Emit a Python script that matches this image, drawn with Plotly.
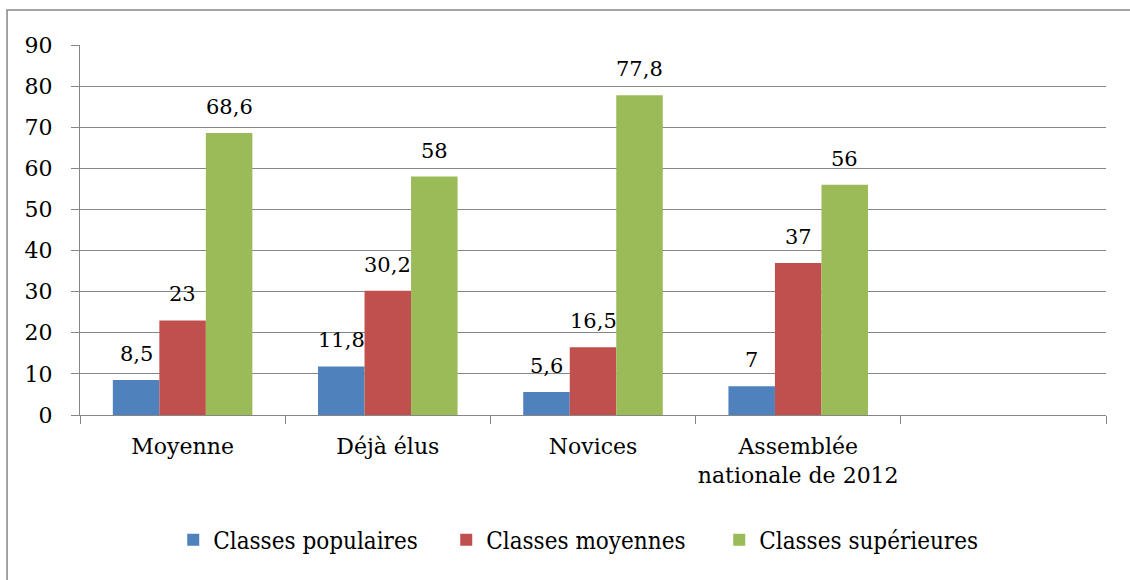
import plotly.graph_objects as go

categories = ["Moyenne", "Déjà élus", "Novices", "Assemblée<br>nationale de 2012"]
empty_slot = " "
series_names = ["Classes populaires", "Classes moyennes", "Classes supérieures"]
populaires = [8.5, 11.8, 5.6, 7]
moyennes = [23, 30.2, 16.5, 37]
superieures = [68.6, 58, 77.8, 56]
colors = ["#4F81BD", "#C0504D", "#9BBB59"]
y_ticks = [0, 10, 20, 30, 40, 50, 60, 70, 80, 90]

series_values = [populaires, moyennes, superieures]
FONT = "DejaVu Serif, Liberation Serif, serif"
GRID = "#868686"

fig = go.Figure()
for name, vals, col in zip(series_names, series_values, colors):
    fig.add_trace(go.Bar(x=categories, y=vals, name=name, marker=dict(color=col, line=dict(width=0))))

# data labels above bars
slot_px = 1026 / 5
bar_px = slot_px * 0.68 / 3
for i, (vals, col) in enumerate(zip(series_values, colors)):
    for c, v in zip(categories, vals):
        fig.add_annotation(x=c, y=v, xref="x", yref="y", text=f"{v:g}".replace(".", ","),
                           showarrow=False, yanchor="bottom", xanchor="center",
                           xshift=(i - 1) * bar_px, yshift=12,
                           font=dict(family=FONT, size=21, color="black"))

fig.add_shape(type="rect", xref="paper", yref="paper", x0=-0.0711, x1=1.1, y0=-0.6, y1=1.0946,
              line=dict(color=GRID, width=1.5), fillcolor="rgba(0,0,0,0)", layer="below")

fig.update_layout(
    width=1130, height=580,
    margin=dict(l=80, r=24, t=45, b=165),
    paper_bgcolor="white", plot_bgcolor="white",
    barmode="group", bargap=0.32, bargroupgap=0,
    font=dict(family=FONT, size=22, color="black"),
    showlegend=True,
    legend=dict(orientation="h", x=0.49, xanchor="center", y=-0.338, yanchor="middle",
                font=dict(family="DejaVu Serif Condensed, Liberation Serif, serif", size=24),
                itemsizing="constant", traceorder="normal", itemwidth=30,
                entrywidth=228, entrywidthmode="pixels"),
    xaxis=dict(type="category", categoryorder="array", categoryarray=categories + [empty_slot],
               range=[-0.5, 4.5], tickson="boundaries", ticks="outside", ticklen=8, tickangle=0,
               tickcolor=GRID, showline=True, linecolor=GRID, linewidth=1, showgrid=False,
               tickfont=dict(family=FONT, size=22), ticklabelstandoff=12, fixedrange=True),
    yaxis=dict(range=[0, 90], tickvals=y_ticks, ticks="outside", ticklen=8, tickcolor=GRID,
               showline=True, linecolor=GRID, linewidth=1, showgrid=True, gridcolor=GRID, gridwidth=1,
               zeroline=False, tickfont=dict(family=FONT, size=22), ticklabelstandoff=14),
)

fig.write_html("out.html", config={"displayModeBar": False},
               post_script="document.body.style.margin='0px';")
